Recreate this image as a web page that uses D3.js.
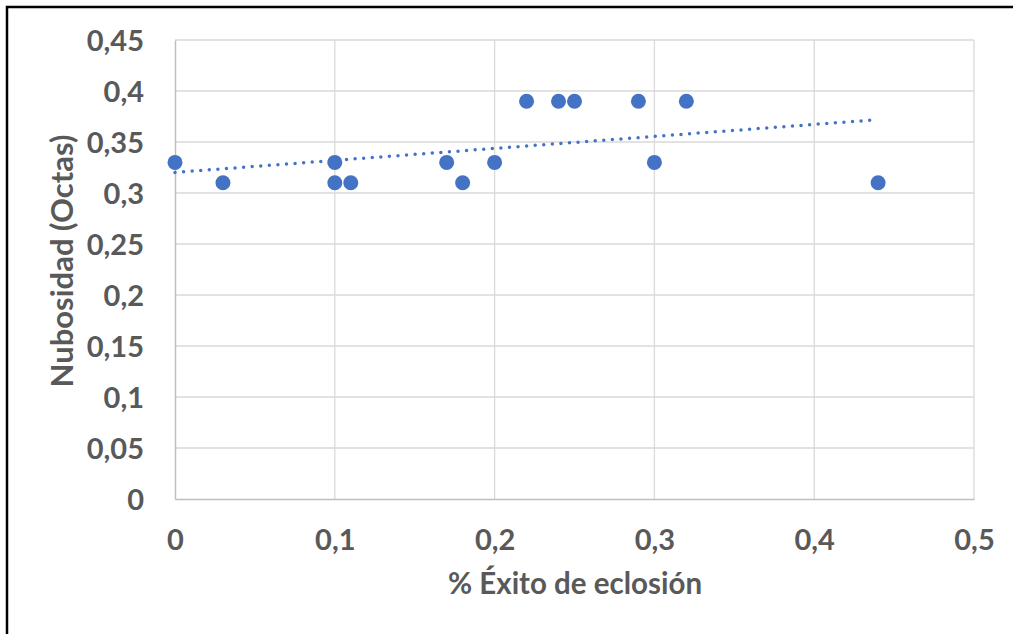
<!DOCTYPE html>
<html><head><meta charset="utf-8">
<script src="https://cdn.jsdelivr.net/npm/d3@7"></script>
<style>
html,body{margin:0;padding:0;background:#fff;}
svg{display:block;}
text{font-family:Lato,"Open Sans",sans-serif;font-weight:700;fill:#595959;}
</style></head>
<body>
<svg id="chart" width="1013" height="634"></svg>
<script>
const exito = [0, 0.03, 0.1, 0.1, 0.11, 0.17, 0.18, 0.2, 0.22, 0.24, 0.25, 0.29, 0.3, 0.32, 0.44];
const nubosidad = [0.33, 0.31, 0.33, 0.31, 0.31, 0.33, 0.31, 0.33, 0.39, 0.39, 0.39, 0.39, 0.33, 0.39, 0.31];
const xTicks = [0, 0.1, 0.2, 0.3, 0.4, 0.5];
const yTicks = [0, 0.05, 0.1, 0.15, 0.2, 0.25, 0.3, 0.35, 0.4, 0.45];
const xTitle = "% Éxito de eclosión";
const yTitle = "Nubosidad (Octas)";

(function () {
const svg = d3.select("#chart");
const W = 1013, H = 634;
const mL = 175, mR = 974, mT = 40, mB = 499;

// outer frame
svg.append("rect").attr("x", 7).attr("y", 7).attr("width", W + 20).attr("height", H + 20)
  .attr("fill", "#fff").attr("stroke", "#000").attr("stroke-width", 2.5);

const x = d3.scaleLinear().domain([0, 0.5]).range([mL, mR]);
const y = d3.scaleLinear().domain([0, 0.45]).range([mB, mT]);
const fmt = d => d3.format("~g")(d).replace(".", ",");

// gridlines
svg.append("g").selectAll("line").data(yTicks.filter(d => d > 0)).join("line")
  .attr("x1", mL).attr("x2", mR).attr("y1", d => y(d)).attr("y2", d => y(d))
  .attr("stroke", "#d9d9d9").attr("stroke-width", 1.3);
svg.append("g").selectAll("line").data(xTicks.filter(d => d > 0)).join("line")
  .attr("y1", mT).attr("y2", mB).attr("x1", d => x(d)).attr("x2", d => x(d))
  .attr("stroke", "#d9d9d9").attr("stroke-width", 1.3);

// axes
const xAxis = d3.axisBottom(x).tickValues(xTicks).tickFormat(fmt).tickSize(0).tickPadding(30);
const gx = svg.append("g").attr("transform", `translate(0,${mB})`).call(xAxis);
gx.select(".domain").attr("stroke", "#bfbfbf").attr("stroke-width", 1.5);
gx.selectAll("text").attr("font-size", 29).attr("fill", "#595959").attr("font-family", null);

const yAxis = d3.axisLeft(y).tickValues(yTicks).tickFormat(fmt).tickSize(0).tickPadding(31);
const gy = svg.append("g").attr("transform", `translate(${mL},0)`).call(yAxis);
gy.select(".domain").attr("stroke", "#bfbfbf").attr("stroke-width", 1.5);
gy.selectAll("text").attr("font-size", 29).attr("fill", "#595959").attr("font-family", null).attr("dy", "0.36em");

// trendline (least squares)
const mx = d3.mean(exito), my = d3.mean(nubosidad);
const slope = d3.sum(exito, (d, i) => (d - mx) * (nubosidad[i] - my)) / d3.sum(exito, d => (d - mx) ** 2);
const intercept = my - slope * mx;
const xr = d3.extent(exito);
svg.append("line")
  .attr("x1", x(xr[0])).attr("y1", y(intercept + slope * xr[0]))
  .attr("x2", x(xr[1])).attr("y2", y(intercept + slope * xr[1]))
  .attr("stroke", "#4472C4").attr("stroke-width", 3.5)
  .attr("stroke-linecap", "round").attr("stroke-dasharray", "0 8.6");

// points
svg.append("g").selectAll("circle").data(exito.map((d, i) => [d, nubosidad[i]])).join("circle")
  .attr("cx", d => x(d[0])).attr("cy", d => y(d[1])).attr("r", 7.5)
  .attr("fill", "#4472C4");

// titles
svg.append("text").attr("x", 575).attr("y", 594).attr("text-anchor", "middle")
  .attr("font-size", 29.5).text(xTitle);
svg.append("text").attr("transform", `translate(73,261) rotate(-90)`)
  .attr("text-anchor", "middle").attr("font-size", 31).text(yTitle);
})();
</script>
</body></html>
